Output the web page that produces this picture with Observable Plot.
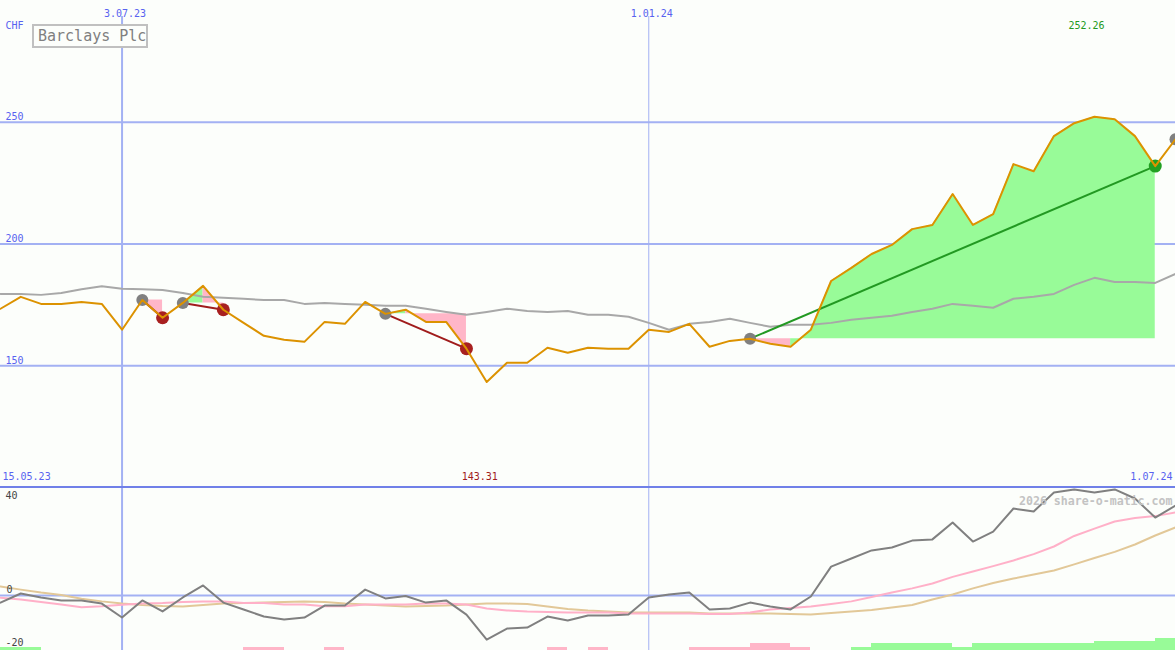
<!DOCTYPE html>
<html>
<head>
<meta charset="utf-8">
<script src="https://cdn.jsdelivr.net/npm/d3@7"></script>
<script src="https://cdn.jsdelivr.net/npm/@observablehq/plot@0.6"></script>
<style>
html,body{margin:0;padding:0;background:#fcfefb;}
#wrap{position:relative;width:1175px;height:650px;overflow:hidden;background:#fcfefb;font-family:"DejaVu Sans Mono",monospace;}
#top{position:absolute;left:0;top:0;}
#bottom{position:absolute;left:0;top:486px;border-top:2px solid #7080e8;}
#title{position:absolute;left:32px;top:24px;width:116px;height:24px;box-sizing:border-box;border:2px solid #c0c0c0;color:#808080;font-size:15px;line-height:20px;padding-left:4px;background:#fcfefb;white-space:nowrap;}
svg{display:block}
</style>
</head>
<body>
<div id="wrap"><div id="top"></div><div id="bottom"></div><div id="title"></div></div>
<script>
const chartTitle = "Barclays Plc";
const currency = "CHF";
const dates = ["2023-05-22","2023-05-29","2023-06-05","2023-06-12","2023-06-19","2023-06-26","2023-07-03","2023-07-10","2023-07-17","2023-07-24",
"2023-07-31","2023-08-07","2023-08-14","2023-08-21","2023-08-28","2023-09-04","2023-09-11","2023-09-18","2023-09-25","2023-10-02",
"2023-10-09","2023-10-16","2023-10-23","2023-10-30","2023-11-06","2023-11-13","2023-11-20","2023-11-27","2023-12-04","2023-12-11",
"2023-12-18","2023-12-25","2024-01-01","2024-01-08","2024-01-15","2024-01-22","2024-01-29","2024-02-05","2024-02-12","2024-02-19",
"2024-02-26","2024-03-04","2024-03-11","2024-03-18","2024-03-25","2024-04-01","2024-04-08","2024-04-15","2024-04-22","2024-04-29",
"2024-05-06","2024-05-13","2024-05-20","2024-05-27","2024-06-03","2024-06-10","2024-06-17","2024-06-24","2024-07-01"];
const price = [173.4,178.3,175.4,175.4,176.2,175.4,164.8,177.0,169.7,175.8,
182.8,173.0,167.6,162.3,160.7,159.8,168.0,167.2,176.2,171.3,
173.0,168.0,168.0,157.0,143.31,151.2,151.2,157.4,155.3,157.4,
157.0,157.0,164.8,163.9,167.2,157.8,160.2,161.1,159.0,157.8,
164.8,184.8,190.2,195.9,199.6,206.1,207.8,220.5,207.8,212.3,
232.8,229.9,244.3,249.6,252.26,251.2,244.3,232.0,243.0];
const avg = [179.5,179.5,179.1,179.9,181.4,182.6,181.6,181.4,181.1,179.9,
178.3,177.9,177.5,177.0,177.0,175.4,175.8,175.4,175.0,174.6,
174.6,173.4,172.1,170.9,172.1,173.4,172.5,172.1,172.5,170.9,
170.9,170.1,167.6,164.8,167.2,168.0,169.3,167.6,166.0,166.8,
166.8,167.6,168.9,169.7,170.5,172.1,173.4,175.4,174.6,173.8,
177.5,178.3,179.5,183.2,186.1,184.4,184.4,184.0,187.7];
const momentum = [-2.9,0.8,-0.8,-2.0,-2.0,-3.3,-9.0,-2.0,-6.5,-0.8,
4.1,-2.9,-5.7,-8.6,-9.8,-9.0,-4.1,-4.1,2.4,-1.2,
-0.2,-2.9,-2.0,-7.8,-18.0,-13.5,-13.1,-8.6,-10.2,-8.2,
-8.2,-7.8,-0.8,0.4,1.2,-5.7,-5.3,-2.9,-4.5,-5.7,
-0.4,11.8,15.1,18.4,19.6,22.4,22.9,29.8,22.0,26.1,
35.5,34.3,42.0,43.3,42.0,43.3,39.6,31.8,36.7];
const fastAvg = [-0.9,-1.6,-2.7,-3.7,-4.8,-4.4,-3.8,-3.3,-3.1,-2.7,
-2.4,-2.4,-3.1,-3.1,-3.7,-3.7,-4.4,-4.4,-3.7,-3.7,
-3.7,-3.3,-3.3,-3.7,-5.3,-6.1,-6.5,-6.7,-6.9,-6.9,
-6.9,-7.3,-7.3,-7.3,-7.3,-7.6,-7.6,-6.9,-5.7,-5.1,
-4.5,-3.5,-2.4,-0.6,1.2,2.9,4.9,7.6,9.8,12.0,
14.3,16.9,20.0,24.3,27.3,30.2,31.6,32.4,33.9];
const slowAvg = [3.7,2.4,1.2,0.2,-1.3,-2.4,-3.3,-3.9,-4.3,-4.5,
-3.9,-3.3,-3.1,-2.9,-2.7,-2.5,-2.7,-3.3,-3.7,-4.1,
-4.5,-4.3,-4.1,-3.7,-3.3,-3.3,-3.5,-4.5,-5.5,-6.1,
-6.5,-6.9,-6.9,-6.9,-6.9,-7.3,-7.3,-7.3,-7.3,-7.6,
-7.8,-7.1,-6.5,-5.9,-4.9,-3.9,-1.6,0.4,2.9,5.1,
6.9,8.6,10.2,12.7,15.3,17.8,20.8,24.5,27.8];
const hist = [1.2,1.2,0,0,0,0,0,0,0,0,
0,0,-1.2,-1.2,0,0,-1.2,0,0,0,
0,0,0,0,0,0,0,-1.2,0,-1.2,
0,0,0,0,-1.2,-1.2,-1.2,-2.7,-2.7,-1.2,
0,0,1.2,2.7,2.7,2.7,2.7,1.2,2.7,2.7,
2.7,2.7,2.7,2.7,3.7,3.7,3.7,5.0,5.0];
const buys  = [7, 9, 19, 37, 58];
const sells = [8, 11, 23, 57, null];
const priceTicks = [150, 200, 250];
const gridDates = ["2023-07-03", "2024-01-01"];
const gridLabels = ["3.07.23", "1.01.24"];
const rangeLabels = ["15.05.23", "1.07.24"];
const lowerTicks = [40, 0, -20];
const watermark = "2026 share-o-matic.com";

const W = 1175;
const FONT = "DejaVu Sans Mono, monospace";
const C = {
  grid: "#a3b1f3", label: "#5862f0", price: "#dc9200", avg: "#a8a8a8",
  up: "#98fb98", down: "#ffb6c8", win: "#229922", loss: "#a01c1c",
  winDot: "#22a022", lossDot: "#a82020", buy: "#808080",
  mom: "#808080", fast: "#ffb0c8", slow: "#e2c898", axis2: "#444444", mark: "#c3c3c3"
};

const parse = d3.utcParse("%Y-%m-%d");
const D = dates.map(parse);
const G = gridDates.map(parse);
const rows = D.map((date, i) => ({date, i, next: d3.utcDay.offset(date, 7), price: price[i], avg: avg[i],
  mom: momentum[i], fast: fastAvg[i], slow: slowAvg[i], hist: hist[i]}));

const trades = buys.map((b, k) => ({buy: b, sell: sells[k]}));
const closed = trades.filter(t => t.sell != null).map(t => ({...t, win: price[t.sell] > price[t.buy]}));

// fill between price and entry level; consecutive segments of the same colour are merged into one run
const segs = [];
closed.forEach((t, k) => {
  const level = price[t.buy];
  let run = 0, prev = null;
  for (let i = t.buy; i < t.sell; i++) {
    const up = price[i + 1] >= level;
    if (prev !== null && up !== prev) run++;
    const id = k + "-" + run;
    if (prev === null || up !== prev) segs.push({seg: id, up, date: D[i], price: price[i], level});
    segs.push({seg: id, up, date: D[i + 1], price: price[i + 1], level});
    prev = up;
  }
});

const xOpt = {type: "utc", domain: [D[0], D[D.length - 1]], range: [0, W], axis: null};
const topDomain = [100.4, 300];
const imax = d3.maxIndex(price), imin = d3.minIndex(price);
const fmt = d3.format(".2f");

const topPlot = Plot.plot({
  width: W, height: 486, margin: 0,
  style: {background: "transparent", fontFamily: FONT, fontSize: "10px"},
  x: xOpt,
  y: {domain: topDomain, axis: null},
  color: {type: "identity"},
  marks: [
    Plot.ruleY(priceTicks, {stroke: C.grid, strokeWidth: 2}),
    Plot.ruleX([G[0]], {stroke: C.grid, strokeWidth: 2, insetTop: 16}),
    Plot.ruleX([G[1]], {stroke: C.grid, strokeWidth: 1, insetTop: 16}),
    Plot.areaY(segs.filter(d => d.up), {x: "date", y1: "level", y2: "price", z: "seg", fill: C.up}),
    Plot.areaY(segs.filter(d => !d.up), {x: "date", y1: "level", y2: "price", z: "seg", fill: C.down}),
    Plot.line(rows, {x: "date", y: "avg", stroke: C.avg, strokeWidth: 2}),
    Plot.link(closed, {x1: t => D[t.buy], y1: t => price[t.buy], x2: t => D[t.sell], y2: t => price[t.sell],
      stroke: t => t.win ? C.win : C.loss, strokeWidth: 2}),
    Plot.dot(trades, {x: t => D[t.buy], y: t => price[t.buy], r: 6, fill: C.buy}),
    Plot.dot(closed, {x: t => D[t.sell], y: t => price[t.sell], r: 6.5, fill: t => t.win ? C.winDot : C.lossDot}),
    Plot.line(rows, {x: "date", y: "price", stroke: C.price, strokeWidth: 2}),
    Plot.text(priceTicks, {y: d => d, text: d => String(d), frameAnchor: "left", textAnchor: "start", dx: 5, dy: -5, fill: C.label}),
    Plot.text([currency], {text: d => d, frameAnchor: "top-left", textAnchor: "start", dx: 5, dy: 21, fill: C.label}),
    Plot.text(G, {x: d => d, text: (d, i) => gridLabels[i], frameAnchor: "top", dx: 3, dy: 9, fill: C.label}),
    Plot.text([imax], {x: i => D[i], text: i => fmt(price[i]), frameAnchor: "top", dx: -8, dy: 21, fill: C.win}),
    Plot.text([imin], {x: i => D[i], text: i => fmt(price[i]), frameAnchor: "bottom", dx: -7, dy: -7, fill: C.loss}),
    Plot.text([rangeLabels[0]], {text: d => d, frameAnchor: "bottom-left", textAnchor: "start", dx: 2, dy: -7, fill: C.label}),
    Plot.text([rangeLabels[1]], {text: d => d, frameAnchor: "bottom-right", textAnchor: "end", dx: -3, dy: -7, fill: C.label})
  ]
});
document.getElementById("top").appendChild(topPlot);

const lowDomain = [-22.45, 43.67];
const bottomPlot = Plot.plot({
  width: W, height: 162, margin: 0,
  style: {background: "transparent", fontFamily: FONT, fontSize: "10px"},
  x: xOpt,
  y: {domain: lowDomain, axis: null},
  color: {type: "identity"},
  marks: [
    Plot.ruleY([0], {stroke: C.grid, strokeWidth: 2}),
    Plot.ruleX([G[0]], {stroke: C.grid, strokeWidth: 2}),
    Plot.ruleX([G[1]], {stroke: C.grid, strokeWidth: 1}),
    Plot.rect(rows.filter(d => d.hist !== 0), {x1: "date", x2: "next", y1: lowDomain[0],
      y2: d => lowDomain[0] + Math.abs(d.hist), fill: d => d.hist > 0 ? C.up : C.down, shapeRendering: "crispEdges"}),
    Plot.line(rows, {x: "date", y: "slow", stroke: C.slow, strokeWidth: 2}),
    Plot.line(rows, {x: "date", y: "fast", stroke: C.fast, strokeWidth: 2}),
    Plot.line(rows, {x: "date", y: "mom", stroke: C.mom, strokeWidth: 2}),
    Plot.text([lowerTicks[0]], {y: d => d, text: d => String(d), frameAnchor: "left", textAnchor: "start", dx: 5, dy: -1.5, fill: C.axis2}),
    Plot.text([lowerTicks[1]], {y: d => d, text: d => String(d), frameAnchor: "left", textAnchor: "start", dx: 6, dy: -6, fill: C.axis2}),
    Plot.text([lowerTicks[2]], {y: d => d, text: d => String(d), frameAnchor: "left", textAnchor: "start", dx: 5, dy: -2, fill: C.axis2}),
    Plot.text([watermark], {text: d => d, frameAnchor: "top-right", textAnchor: "end", dx: -3, dy: 8, fill: C.mark, fontWeight: "bold", fontSize: 11.6})
  ]
});
document.getElementById("bottom").appendChild(bottomPlot);
document.getElementById("title").textContent = chartTitle;
</script>
</body>
</html>
